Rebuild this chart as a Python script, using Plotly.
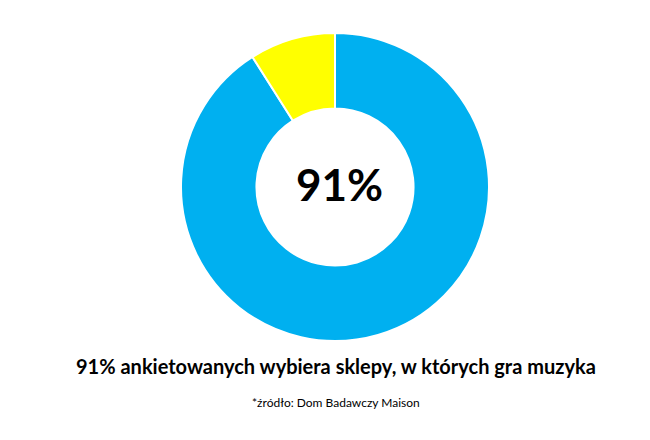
import plotly.graph_objects as go

labels = ["Wybiera sklepy z muzyką", "Pozostali"]
values = [91, 9]
colors = ["#00B0F0", "#FFFF00"]
center_text = "91%"
title_text = "91% ankietowanych wybiera sklepy, w których gra muzyka"
source_text = "*źródło: Dom Badawczy Maison"

cx, cy, r = 327, 179, 154
fig = go.Figure(go.Pie(
    labels=labels, values=values, hole=0.51, sort=False,
    direction="clockwise", rotation=0,
    marker=dict(colors=colors, line=dict(color="white", width=2)),
    textinfo="none", hoverinfo="label+percent",
    domain=dict(x=[(cx - r) / 650, (cx + r) / 650], y=[1 - (cy + r) / 440, 1 - (cy - r) / 440]),
    showlegend=False,
))

fig.add_annotation(text="<b>" + center_text + "</b>", x=331/650, y=1-176/440,
                   xref="paper", yref="paper", showarrow=False,
                   font=dict(family="Lato, sans-serif", size=44, color="black"))
fig.add_annotation(text="<b>" + title_text + "</b>", x=328/650, y=1-372/440,
                   xref="paper", yref="paper", showarrow=False,
                   font=dict(family="Lato, sans-serif", size=20, color="black"))
fig.add_annotation(text=source_text, x=328/650, y=1-404/440,
                   xref="paper", yref="paper", showarrow=False,
                   font=dict(family="Lato, sans-serif", size=12, color="black"))

fig.update_layout(width=650, height=440, margin=dict(l=0, r=0, t=0, b=0),
                  paper_bgcolor="white", plot_bgcolor="white")
fig.write_html("out.html")
